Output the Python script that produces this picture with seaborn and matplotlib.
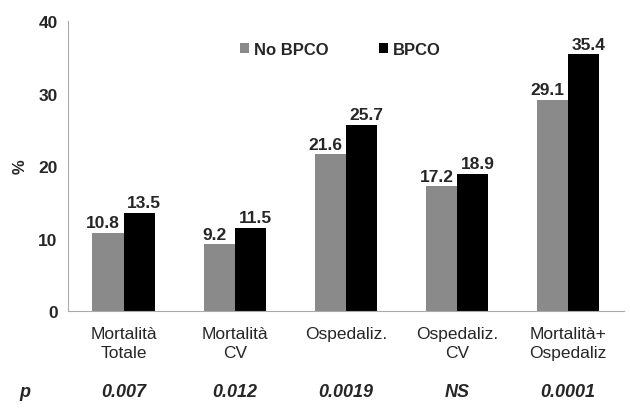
import matplotlib
matplotlib.use("Agg")
import matplotlib.pyplot as plt
import seaborn as sns
import pandas as pd

# data
categories = ["Mortalità\nTotale", "Mortalità\nCV", "Ospedaliz.", "Ospedaliz.\nCV", "Mortalità+\nOspedaliz"]
no_bpco = [10.8, 9.2, 21.6, 17.2, 29.1]
bpco = [13.5, 11.5, 25.7, 18.9, 35.4]
p_values = ["0.007", "0.012", "0.0019", "NS", "0.0001"]

df = pd.DataFrame({
    "cat": categories * 2,
    "val": no_bpco + bpco,
    "group": ["No BPCO"] * 5 + ["BPCO"] * 5,
})

sns.set_style("white")
plt.rcParams["font.family"] = ["Liberation Sans", "DejaVu Sans"]

fig = plt.figure(figsize=(6.3, 4.1), dpi=100)
ax = fig.add_axes([0.108, 0.239, 0.882, 0.707])

sns.barplot(data=df, x="cat", y="val", hue="group", order=categories,
            hue_order=["No BPCO", "BPCO"], palette=["#8a8a8a", "#000000"],
            width=0.56, gap=0, saturation=1, linewidth=0, ax=ax)

# value labels, nudged outward a little so the pairs don't collide
for cont, dx in zip(ax.containers, [-3.5, 3.5]):
    anns = ax.bar_label(cont, fmt="%.1f", padding=2, fontsize=12.5, fontweight="bold")
    for a in anns:
        a.xyann = (dx, 2)

ax.set_ylim(0, 40)
ax.set_yticks([0, 10, 20, 30, 40])
ax.set_xlim(-0.5, 4.5)
ax.set_xlabel("")
ax.set_ylabel("%", fontsize=12, fontweight="bold", rotation=90, labelpad=8)
ax.tick_params(axis="y", labelsize=12.5, length=4, color="#999999", width=1)
for lab in ax.get_yticklabels():
    lab.set_fontweight("bold")
ax.tick_params(axis="x", labelsize=12.5, length=0, pad=11)
for lab in ax.get_xticklabels():
    lab.set_linespacing(1.3)

sns.despine(ax=ax, top=True, right=True)
ax.spines["left"].set_color("#aaaaaa")
ax.spines["bottom"].set_color("#aaaaaa")

# p-value row
ax.text(-0.887, -0.276, "p", transform=ax.get_xaxis_transform(), ha="center",
        va="center", fontsize=13, fontweight="bold", style="italic")
for i, p in enumerate(p_values):
    ax.text(i, -0.276, p, transform=ax.get_xaxis_transform(), ha="center",
            va="center", fontsize=13, fontweight="bold", style="italic")

leg = ax.legend(loc="center", bbox_to_anchor=(0.49, 0.903), ncol=2,
                frameon=False, fontsize=12, handlelength=0.55, handleheight=0.55,
                columnspacing=3.0, handletextpad=0.3)
for t in leg.get_texts():
    t.set_fontweight("bold")

fig.savefig("out.png", dpi=100)
